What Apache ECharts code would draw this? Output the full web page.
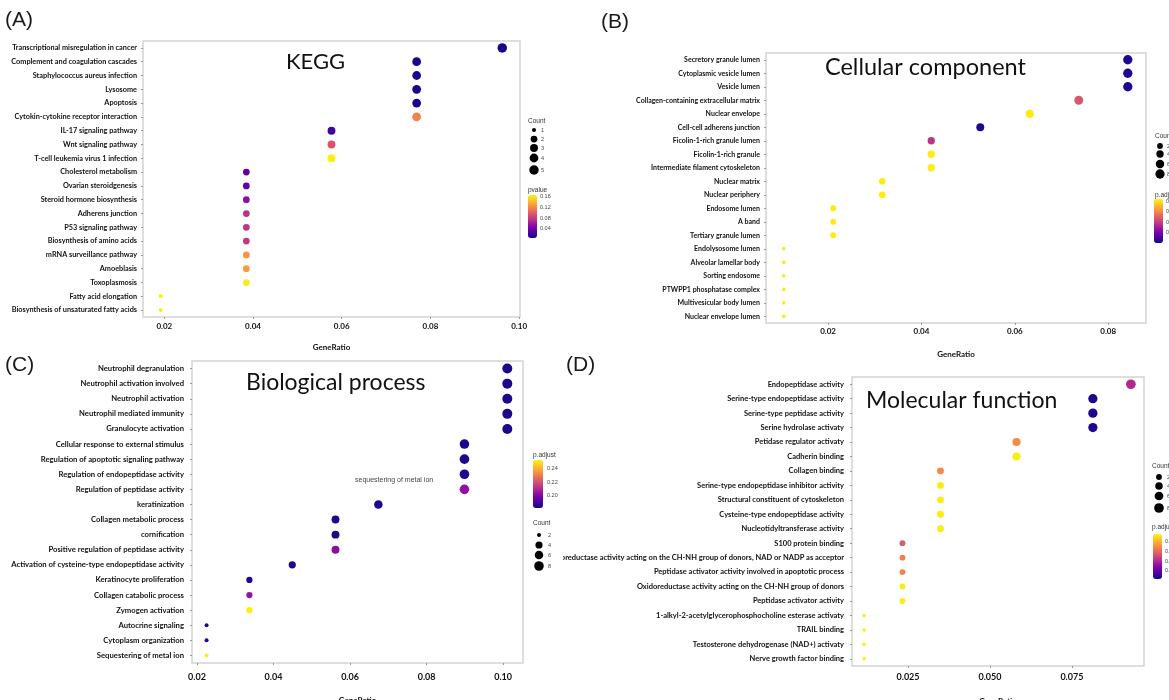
<!DOCTYPE html>
<html><head><meta charset="utf-8">
<script src="https://cdn.jsdelivr.net/npm/echarts@6/dist/echarts.min.js"></script>
<style>html,body{margin:0;padding:0;background:#fff}#c{width:1169px;height:700px}</style>
</head><body><div id="c"></div>
<script>
// ================= DATA =================
// (A) KEGG
const keggTerms = ['Transcriptional misregulation in cancer','Complement and coagulation cascades','Staphylococcus aureus infection','Lysosome','Apoptosis','Cytokin-cytokine receptor interaction','IL-17 signaling pathway','Wnt signaling pathway','T-cell leukemia virus 1 infection','Cholesterol metabolism','Ovarian steroidgenesis','Steroid hormone biosynthesis','Adherens junction','P53 signaling pathway','Biosynthesis of amino acids','mRNA surveillance pathway','Amoeblasis','Toxoplasmosis','Fatty acid elongation','Biosynthesis of unsaturated fatty acids'];
const keggRatio = [0.0962,0.0769,0.0769,0.0769,0.0769,0.0769,0.0577,0.0577,0.0577,0.0385,0.0385,0.0385,0.0385,0.0385,0.0385,0.0385,0.0385,0.0385,0.0192,0.0192];
const keggCount = [5,4,4,4,4,4,3,3,3,2,2,2,2,2,2,2,2,2,1,1];
const keggP = [0.008,0.008,0.008,0.008,0.008,0.117,0.021,0.094,0.165,0.033,0.034,0.054,0.074,0.077,0.078,0.126,0.130,0.163,0.165,0.165];
const keggXTicks = [0.02,0.04,0.06,0.08,0.10];
const keggPTicks = [0.16,0.12,0.08,0.04];
const keggSizeTicks = [1,2,3,4,5];

// (B) Cellular component
const ccTerms = ['Secretory granule lumen','Cytoplasmic vesicle lumen','Vesicle lumen','Collagen-containing extracellular matrix','Nuclear envelope','Cell-cell adherens junction','Ficolin-1-rich granule lumen','Ficolin-1-rich granule','Intermediate filament cytoskeleton','Nuclear matrix','Nuclear periphery','Endosome lumen','A band','Tertiary granule lumen','Endolysosome lumen','Alveolar lamellar body','Sorting endosome','PTWPP1 phosphatase complex','Multivesicular body lumen','Nuclear envelope lumen'];
const ccRatio = [0.0842,0.0842,0.0842,0.0737,0.0632,0.0526,0.0421,0.0421,0.0421,0.0316,0.0316,0.0211,0.0211,0.0211,0.0105,0.0105,0.0105,0.0105,0.0105,0.0105];
const ccCount = [8,8,8,7,6,5,4,4,4,3,3,2,2,2,1,1,1,1,1,1];
const ccP = [0.003,0.003,0.003,0.047,0.083,0.003,0.037,0.083,0.083,0.083,0.083,0.083,0.083,0.083,0.083,0.083,0.083,0.083,0.083,0.083];
const ccXTicks = [0.02,0.04,0.06,0.08];
const ccPTicks = [0.08,0.06,0.04,0.02];
const ccSizeTicks = [2,4,6,8];

// (C) Biological process
const bpTerms = ['Neutrophil degranulation','Neutrophil activation involved','Neutrophil activation','Neutrophil mediated immunity','Granulocyte activation','Cellular response to external stimulus','Regulation of apoptotic signaling pathway','Regulation of endopeptidase activity','Regulation of peptidase activity','keratinization','Collagen metabolic process','cornification','Positive regulation of peptidase activity','Activation of cysteine-type endopeptidase activity','Keratinocyte proliferation','Collagen catabolic process','Zymogen activation','Autocrine signaling','Cytoplasm organization','Sequestering of metal ion'];
const bpRatio = [0.1011,0.1011,0.1011,0.1011,0.1011,0.0899,0.0899,0.0899,0.0899,0.0674,0.0562,0.0562,0.0562,0.0449,0.0337,0.0337,0.0337,0.0225,0.0225,0.0225];
const bpCount = [9,9,9,9,9,8,8,8,8,6,5,5,5,4,3,3,3,2,2,2];
const bpP = [0.184,0.184,0.184,0.184,0.184,0.184,0.184,0.184,0.204,0.184,0.184,0.184,0.203,0.184,0.184,0.205,0.252,0.184,0.184,0.252];
const bpXTicks = [0.02,0.04,0.06,0.08,0.10];
const bpPTicks = [0.24,0.22,0.20];
const bpSizeTicks = [2,4,6,8];

// (D) Molecular function
const mfTerms = ['Endopeptidase activity','Serine-type endopeptidase activity','Serine-type peptidase activity','Serine hydrolase activaty','Petidase regulator activaty','Cadherin binding','Collagen binding','Serine-type endopeptidase inhibitor activity','Structural constituent of cytoskeleton','Cysteine-type endopeptidase activity','Nucleotidyltransferase activity','S100 protein binding','Oxidoreductase activity acting on the CH-NH group of donors, NAD or NADP as acceptor','Peptidase activator activity involved in apoptotic process','Oxidoreductase activity acting on the CH-NH group of donors','Peptidase activator activity','1-alkyl-2-acetylglycerophosphocholine esterase activaty','TRAIL binding','Testosterone dehydrogenase (NAD+) activaty','Nerve growth factor binding'];
const mfRatio = [0.0930,0.0814,0.0814,0.0814,0.0581,0.0581,0.0349,0.0349,0.0349,0.0349,0.0349,0.0233,0.0233,0.0233,0.0233,0.0233,0.0116,0.0116,0.0116,0.0116];
const mfCount = [8,7,7,7,5,5,3,3,3,3,3,2,2,2,2,2,1,1,1,1];
const mfP = [0.020,0.003,0.003,0.003,0.035,0.047,0.035,0.047,0.047,0.047,0.047,0.028,0.034,0.034,0.047,0.047,0.047,0.047,0.047,0.047];
const mfXTicks = [0.025,0.050,0.075];
const mfPTicks = [0.04,0.03,0.02,0.01];
const mfSizeTicks = [2,4,6,8];

// ================= LAYOUT / STYLE =================
const plasma = ['#0d0887','#41049d','#6a00a8','#8f0da4','#b12a90','#cc4778','#e16462','#f2844b','#fca636','#fcce25','#f9f50f'];
const LBL = 'Lato,"Liberation Sans",Arial,sans-serif';
const TTL = 'Lato,"Open Sans",sans-serif';

const panels = [
  { terms: keggTerms, ratio: keggRatio, count: keggCount, p: keggP, xTicks: keggXTicks, pTicks: keggPTicks, sizeTicks: keggSizeTicks,
    xMin: 0.0152, xMax: 0.1002, pMin: 0.005, pMax: 0.167, cRange: [1,5], dRange: [4,9.5], digits: 2,
    grid: {left:143, top:41, width:377, height:276}, yFont: 7.3, yMargin: 6, xFont: 8, xMargin: 5, nameGap: 26,
    title: {text:'KEGG', x:286, y:62, size:22}, tag: {text:'(A)', x:5, y:20},
    pTitle: 'pvalue', lg: {countTitle:[528,121], dotX:534, dotY:[130,139,148,158,170], labelX:541, pTitleXY:[528,190], bar:[528,195,9,43], pLabelX:540} },
  { terms: ccTerms, ratio: ccRatio, count: ccCount, p: ccP, xTicks: ccXTicks, pTicks: ccPTicks, sizeTicks: ccSizeTicks,
    xMin: 0.0067, xMax: 0.0881, pMin: 0.0, pMax: 0.085, cRange: [1,8], dRange: [3.7,9.3], digits: 2,
    grid: {left:766, top:53, width:380, height:270}, yFont: 7, yMargin: 6, xFont: 8, xMargin: 4, nameGap: 27,
    title: {text:'Cellular component', x:825, y:67, size:23.5}, tag: {text:'(B)', x:601, y:22},
    pTitle: 'p.adjust', lg: {countTitle:[1155,136], dotX:1160, dotY:[146,154,164,174], labelX:1167, pTitleXY:[1155,195], bar:[1154,199,9,44], pLabelX:1166} },
  { terms: bpTerms, ratio: bpRatio, count: bpCount, p: bpP, xTicks: bpXTicks, pTicks: bpPTicks, sizeTicks: bpSizeTicks,
    xMin: 0.0187, xMax: 0.1052, pMin: 0.182, pMax: 0.253, cRange: [2,9], dRange: [4,10], digits: 2,
    grid: {left:192, top:361, width:331, height:302}, yFont: 7.7, yMargin: 8, xFont: 9, xMargin: 10, nameGap: 33,
    title: {text:'Biological process', x:246, y:383, size:23}, tag: {text:'(C)', x:5, y:365},
    pTitle: 'p.adjust', lg: {countTitle:[533,523], dotX:539, dotY:[535,545,555,566], labelX:548, pTitleXY:[533,455], bar:[533,460,10,48], pLabelX:547} },
  { terms: mfTerms, ratio: mfRatio, count: mfCount, p: mfP, xTicks: mfXTicks, pTicks: mfPTicks, sizeTicks: mfSizeTicks,
    xMin: 0.0079, xMax: 0.097, pMin: 0.0016, pMax: 0.048, cRange: [1,8], dRange: [3.5,9.7], digits: 3,
    grid: {left:852, top:377, width:292, height:289}, yFont: 7.5, yMargin: 8, xFont: 9, xMargin: 7, nameGap: 31,
    title: {text:'Molecular function', x:866, y:401, size:23}, tag: {text:'(D)', x:566, y:365},
    pTitle: 'p.adjust', lg: {countTitle:[1152,466], dotX:1159, dotY:[477,486,496,508], labelX:1167, pTitleXY:[1152,527], bar:[1153,534,9,45], pLabelX:1165} }
];

function sizeFn(pn) {
  return function (c) {
    const t = (c - pn.cRange[0]) / (pn.cRange[1] - pn.cRange[0]);
    return pn.dRange[0] + (pn.dRange[1] - pn.dRange[0]) * Math.sqrt(Math.max(0, t));
  };
}

const grids = [], xAxes = [], yAxes = [], series = [], visualMaps = [], graphics = [];
const txt = (text, x, y, font, fill, align, valign) => ({ type:'text', silent:true, z:100, style:{ text, x, y, font, fill: fill || '#222', align: align || 'left', verticalAlign: valign || 'middle' } });

// white strip: panel (C)'s image edge hides the start of the longest (D) label
graphics.push({ type:'rect', silent:true, z:90, shape:{x:544, y:550, width:19, height:13}, style:{fill:'#fff'} });

panels.forEach((pn, i) => {
  const sz = sizeFn(pn);
  grids.push(Object.assign({ show:true, borderColor:'#d4d4d4', borderWidth:1.5, backgroundColor:'#fff', containLabel:false, outerBoundsMode:'none' }, pn.grid));
  xAxes.push({
    gridIndex:i, type:'value', min:pn.xMin, max:pn.xMax,
    axisLine:{show:false}, splitLine:{show:false},
    axisTick:{show:true, length:2, lineStyle:{color:'#999', width:1}, customValues: pn.xTicks},
    axisLabel:{customValues: pn.xTicks, margin: pn.xMargin, fontSize: pn.xFont, fontWeight:'bold', fontFamily: LBL, color:'#111',
      formatter: v => Number(v).toFixed(pn.digits)},
    name:'GeneRatio', nameLocation:'middle', nameGap: pn.nameGap,
    nameTextStyle:{fontSize:8, fontWeight:'bold', fontFamily: LBL, color:'#111'}
  });
  yAxes.push({
    gridIndex:i, type:'category', data: pn.terms, inverse:true,
    axisLine:{show:false}, splitLine:{show:false},
    axisTick:{show:true, alignWithLabel:true, length:2, lineStyle:{color:'#999', width:1}},
    axisLabel:{interval:0, margin: pn.yMargin, fontSize: pn.yFont, fontWeight:'bold', fontFamily: LBL, color:'#111'}
  });
  series.push({
    type:'scatter', xAxisIndex:i, yAxisIndex:i,
    data: pn.terms.map((t, k) => [pn.ratio[k], t, pn.count[k], pn.p[k]]),
    encode:{x:0, y:1},
    symbolSize: d => sz(d[2]),
    itemStyle:{opacity:1},
    emphasis:{disabled:true}, silent:true
  });
  const lg = pn.lg;
  visualMaps.push({
    type:'continuous', seriesIndex:i, dimension:3, min:pn.pMin, max:pn.pMax,
    inRange:{color: plasma}, calculable:false, hoverLink:false, realtime:false,
    left: lg.bar[0], top: lg.bar[1], itemWidth: lg.bar[2], itemHeight: lg.bar[3], padding:0,
    text:null, orient:'vertical'
  });
  graphics.push(txt(pn.pTitle, lg.pTitleXY[0], lg.pTitleXY[1], '6.5px "Liberation Sans",sans-serif', '#333'));
  pn.pTicks.forEach(v => {
    const y = lg.bar[1] + (pn.pMax - v) / (pn.pMax - pn.pMin) * lg.bar[3];
    graphics.push(txt(v.toFixed(2), lg.pLabelX, y, '5.5px "Liberation Sans",sans-serif', '#444'));
  });
  graphics.push(txt('Count', lg.countTitle[0], lg.countTitle[1], '6.5px "Liberation Sans",sans-serif', '#333'));
  pn.sizeTicks.forEach((c, k) => {
    graphics.push({ type:'circle', silent:true, z:100, shape:{cx: lg.dotX, cy: lg.dotY[k], r: sz(c) / 2}, style:{fill:'#000'} });
    graphics.push(txt(String(c), lg.labelX, lg.dotY[k], '5.5px "Liberation Sans",sans-serif', '#444'));
  });
  graphics.push(txt(pn.title.text, pn.title.x, pn.title.y, pn.title.size + 'px ' + TTL, '#111'));
  graphics.push(txt(pn.tag.text, pn.tag.x, pn.tag.y, '21px "Liberation Sans",Arial,sans-serif', '#1a1a1a'));
});
graphics.push(txt('sequestering of metal ion', 355, 480, '7px "Liberation Sans",sans-serif', '#444'));

const chart = echarts.init(document.getElementById('c'), null, {renderer:'canvas'});
chart.setOption({
  animation:false, backgroundColor:'#fff',
  grid: grids, xAxis: xAxes, yAxis: yAxes, series, visualMap: visualMaps,
  graphic: graphics
});
</script>
</body></html>
